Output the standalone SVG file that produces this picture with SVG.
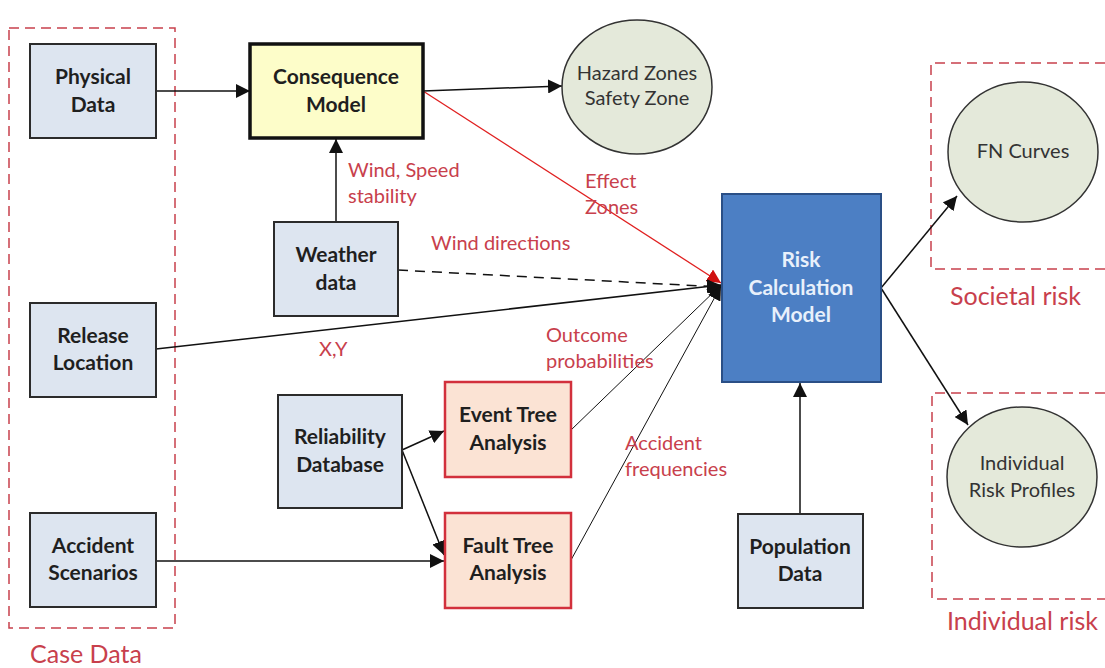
<svg xmlns="http://www.w3.org/2000/svg" width="1105" height="668" viewBox="0 0 1105 668">
<style>
.box{fill:#dde5f0;stroke:#2b2b2b;stroke-width:2}
.cons{fill:#fdfdc9;stroke:#111;stroke-width:3.5}
.tree{fill:#fbe3d4;stroke:#d2303c;stroke-width:2.5}
.risk{fill:#4c7fc4;stroke:#2a4f86;stroke-width:2}
.circ{fill:#e4e9da;stroke:#333;stroke-width:1.5}
.grp{fill:none;stroke:#c8404c;stroke-width:1.5;stroke-dasharray:10,6}
.nt{font-family:Lato,"Liberation Sans",sans-serif;font-weight:bold;font-size:21px;fill:#1f1f1f;text-anchor:middle}
.wt{font-family:Lato,"Liberation Sans",sans-serif;font-weight:bold;font-size:21px;fill:#e8f0fb;text-anchor:middle}
.ct{font-family:Lato,"Liberation Sans",sans-serif;font-size:20px;fill:#333;text-anchor:middle}
.lbl{font-family:Lato,"Liberation Sans",sans-serif;font-size:20px;fill:#c8404c}
.glbl{font-family:Lato,"Liberation Sans",sans-serif;font-size:25px;fill:#c8404c}
.ln{fill:none;stroke:#111;stroke-width:1.5}
</style>
<defs>
<marker id="ah" viewBox="0 0 10 10" refX="10" refY="5" markerWidth="14" markerHeight="14" markerUnits="userSpaceOnUse" orient="auto">
<path d="M0,0 L10,5 L0,10 z" fill="#111"/>
</marker>
<marker id="ahr" viewBox="0 0 10 10" refX="10" refY="5" markerWidth="14" markerHeight="14" markerUnits="userSpaceOnUse" orient="auto">
<path d="M0,0 L10,5 L0,10 z" fill="#d01010"/>
</marker>
</defs>
<rect width="1105" height="668" fill="#ffffff"/>

<g id="groups">
<rect class="grp" x="9" y="28" width="166" height="600"/>
<text class="glbl" x="30" y="663">Case Data</text>
<path class="grp" d="M1105,63 L931,63 L931,269 L1105,269"/>
<text class="glbl" x="950" y="305">Societal risk</text>
<path class="grp" d="M1105,393 L932,393 L932,599 L1105,599"/>
<text class="glbl" x="947" y="630">Individual risk</text>
</g>

<g id="connectors">
<line class="ln" x1="156" y1="91" x2="250" y2="91" marker-end="url(#ah)"/>
<line class="ln" x1="423" y1="91" x2="562" y2="86" marker-end="url(#ah)"/>
<line class="ln" x1="336" y1="222" x2="336" y2="139" marker-end="url(#ah)"/>
<line x1="423" y1="91" x2="721" y2="283" stroke="#e02020" stroke-width="1.3" marker-end="url(#ahr)"/>
<line class="ln" x1="398" y1="270" x2="721" y2="287" stroke-dasharray="10,7" marker-end="url(#ah)"/>
<line class="ln" x1="156" y1="349" x2="721" y2="285" marker-end="url(#ah)"/>
<line class="ln" x1="402" y1="450" x2="444" y2="431" marker-end="url(#ah)"/>
<line class="ln" x1="402" y1="450" x2="444" y2="555" marker-end="url(#ah)"/>
<line class="ln" x1="156" y1="561" x2="444" y2="561" marker-end="url(#ah)"/>
<line x1="571" y1="430" x2="721" y2="285" stroke="#111" stroke-width="1" marker-end="url(#ah)"/>
<line x1="571" y1="560" x2="721" y2="286" stroke="#111" stroke-width="1" marker-end="url(#ah)"/>
<line class="ln" x1="800" y1="513" x2="800" y2="383" marker-end="url(#ah)"/>
<line class="ln" x1="881" y1="288" x2="957" y2="196" marker-end="url(#ah)"/>
<line class="ln" x1="881" y1="288" x2="968" y2="425" marker-end="url(#ah)"/>
<text class="lbl" x="348" y="177">Wind, Speed</text>
<text class="lbl" x="348" y="203">stability</text>
<text class="lbl" x="585" y="188">Effect</text>
<text class="lbl" x="585" y="214">Zones</text>
<text class="lbl" x="431" y="250">Wind directions</text>
<text class="lbl" x="319" y="356">X,Y</text>
<text class="lbl" x="546" y="342">Outcome</text>
<text class="lbl" x="546" y="368">probabilities</text>
<text class="lbl" x="625" y="450">Accident</text>
<text class="lbl" x="625" y="476">frequencies</text>
</g>

<g id="physical-data"><rect class="box" x="30" y="44" width="126" height="94"/><text class="nt" x="93" y="84">Physical</text><text class="nt" x="93" y="112">Data</text></g>
<g id="consequence-model"><rect class="cons" x="250" y="44" width="173" height="94"/><text class="nt" x="336" y="84">Consequence</text><text class="nt" x="336" y="112">Model</text></g>
<g id="hazard-zones"><ellipse class="circ" cx="637" cy="87" rx="75" ry="67"/><text class="ct" x="637" y="80">Hazard Zones</text><text class="ct" x="637" y="105">Safety Zone</text></g>
<g id="weather-data"><rect class="box" x="274" y="222" width="124" height="94"/><text class="nt" x="336" y="262">Weather</text><text class="nt" x="336" y="290">data</text></g>
<g id="release-location"><rect class="box" x="30" y="303" width="126" height="94"/><text class="nt" x="93" y="343">Release</text><text class="nt" x="93" y="370">Location</text></g>
<g id="reliability-database"><rect class="box" x="278" y="395" width="124" height="113"/><text class="nt" x="340" y="444">Reliability</text><text class="nt" x="340" y="472">Database</text></g>
<g id="accident-scenarios"><rect class="box" x="30" y="513" width="126" height="94"/><text class="nt" x="93" y="553">Accident</text><text class="nt" x="93" y="580">Scenarios</text></g>
<g id="event-tree"><rect class="tree" x="445" y="382" width="126" height="95"/><text class="nt" x="508" y="422">Event Tree</text><text class="nt" x="508" y="450">Analysis</text></g>
<g id="fault-tree"><rect class="tree" x="445" y="513" width="126" height="95"/><text class="nt" x="508" y="553">Fault Tree</text><text class="nt" x="508" y="580">Analysis</text></g>
<g id="risk-calculation-model"><rect class="risk" x="722" y="194" width="159" height="188"/><text class="wt" x="801" y="267">Risk</text><text class="wt" x="801" y="295">Calculation</text><text class="wt" x="801" y="322">Model</text></g>
<g id="population-data"><rect class="box" x="738" y="514" width="125" height="94"/><text class="nt" x="800" y="554">Population</text><text class="nt" x="800" y="581">Data</text></g>
<g id="fn-curves"><ellipse class="circ" cx="1023" cy="152" rx="75" ry="70"/><text class="ct" x="1023" y="158">FN Curves</text></g>
<g id="individual-risk-profiles"><ellipse class="circ" cx="1022" cy="477" rx="75" ry="70"/><text class="ct" x="1022" y="470">Individual</text><text class="ct" x="1022" y="497">Risk Profiles</text></g>
</svg>
